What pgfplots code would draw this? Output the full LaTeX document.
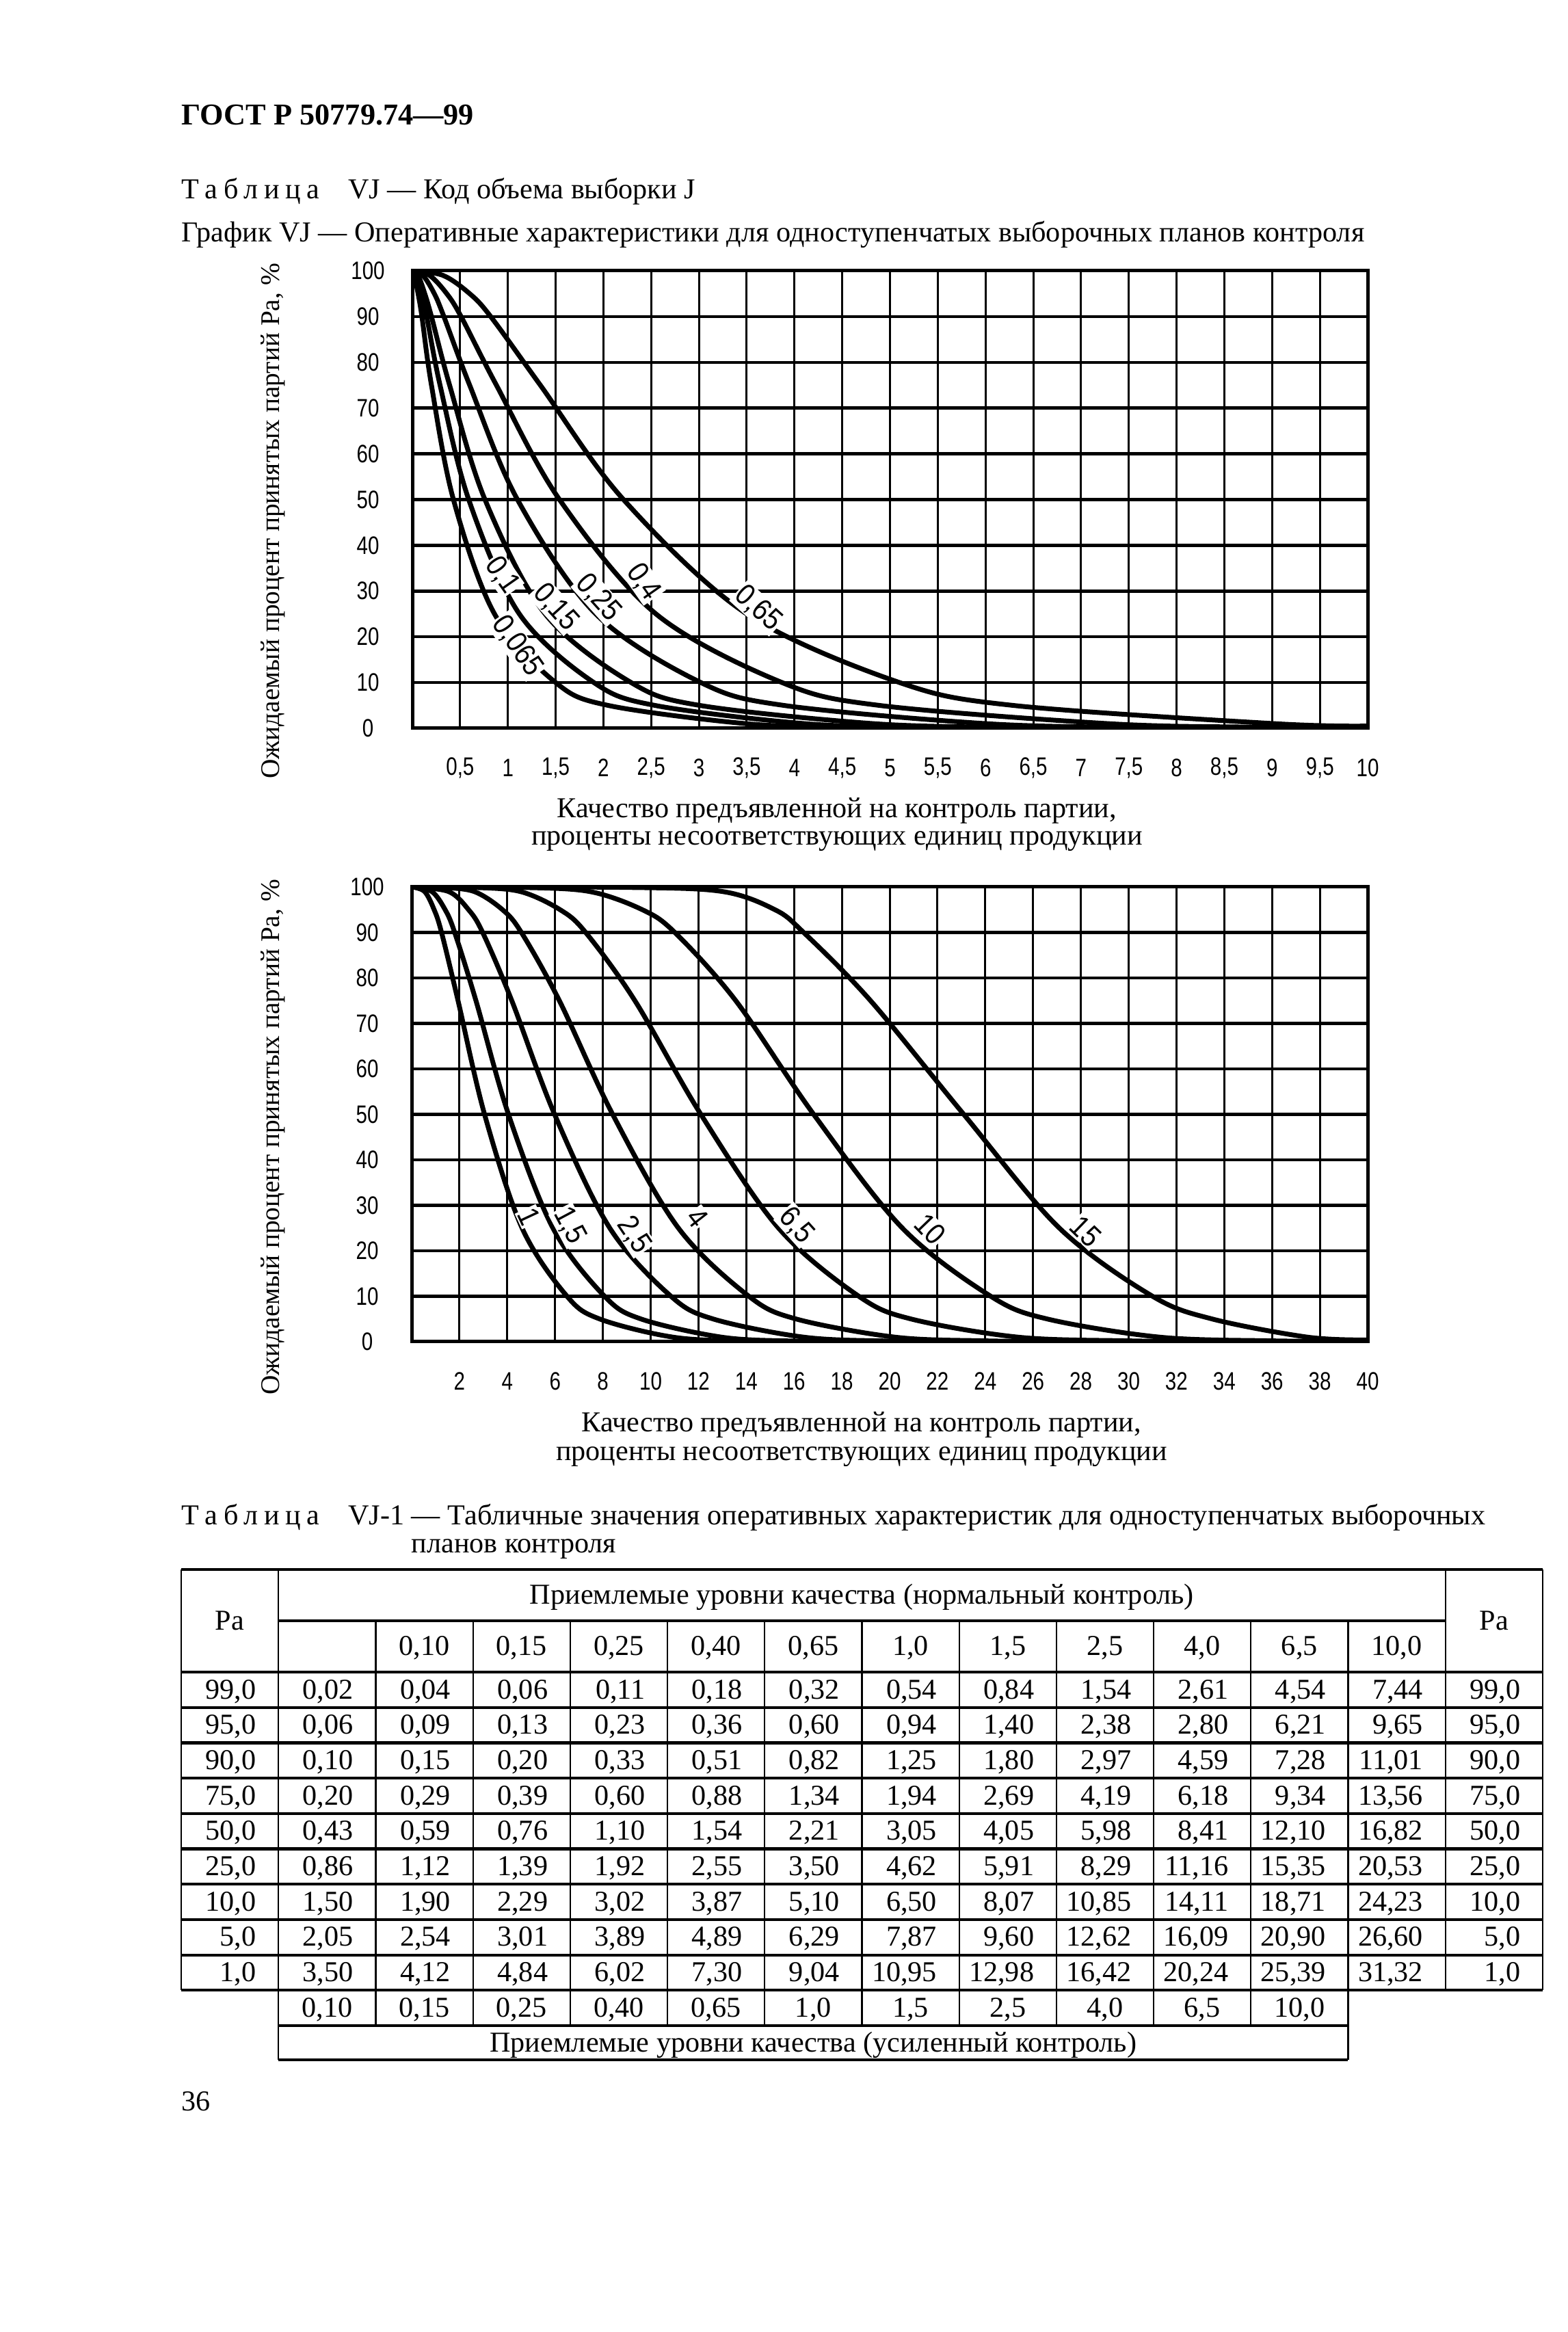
\documentclass[border=0pt]{standalone}
\usepackage{pgfplots}
\pgfplotsset{compat=1.18}
\usepackage{fontspec}
\setmainfont{Liberation Serif}
\newfontfamily\tickfont[FakeStretch=0.8]{Liberation Sans}
\newfontfamily\labfont[FakeStretch=0.88]{Liberation Sans}
\newcommand{\ls}{\hspace{0.2em}}
\newcommand{\tbl}{Т\ls а\ls б\ls л\ls и\ls ц\ls а}
\newcommand{\trow}[2]{%
  \foreach \v [count=\c from 0] in {#2} {%
    \node[anchor=base east,inner sep=0] at ({265+(\c+1)*142.2-32},{2445+#1*51.7+39}) {\v};}}
\tikzset{lab/.style={font=\labfont\fontsize{12.5}{12.5}\selectfont, fill=white, inner sep=0.5pt}}
\pgfplotsset{
  ocstyle/.style={
    scale only axis, anchor=south west,
    ymin=0, ymax=100,
    ytick={0,10,20,30,40,50,60,70,80,90,100},
    yticklabels={0,10,20,30,40,50,60,70,80,90,100},
    major tick length=0pt,
    xmajorgrids, grid style={line width=0.3mm,black},
    axis line style={line width=0.5mm},
    tick label style={font=\tickfont\fontsize{10.5}{10.5}\selectfont},
    xticklabel style={anchor=center,yshift=-5.8mm},
    yticklabel style={anchor=center,xshift=-6.5mm},
    cycle list={{black,solid}},
    every axis plot/.append style={line width=0.7mm, smooth, tension=0.55, no markers},
  },
}
\begin{document}
\begin{tikzpicture}[font=\fontsize{12}{13}\selectfont]
\path[fill=white,use as bounding box] (0,0) rectangle (229.2mm,341mm);

\begin{scope}[x=0.1mm,y=-0.1mm,yshift=341mm]
% page texts
\node[anchor=base west,inner sep=0,font=\bfseries\fontsize{12.6}{14}\selectfont] at (265,183) {ГОСТ Р 50779.74—99};
\node[anchor=base west,inner sep=0] at (265,291) {\tbl\quad VJ — Код объема выборки J};
\node[anchor=base west,inner sep=0] at (265,354) {График VJ — Оперативные характеристики для одноступенчатых выборочных планов контроля};
% axis titles
\node[anchor=base,inner sep=0] at (1224,1196) {Качество предъявленной на контроль партии,};
\node[anchor=base,inner sep=0] at (1224,1236) {проценты несоответствующих единиц продукции};
\node[anchor=base,inner sep=0] at (1260,2094) {Качество предъявленной на контроль партии,};
\node[anchor=base,inner sep=0] at (1260,2135) {проценты несоответствующих единиц продукции};
\node[rotate=90,inner sep=0,font=\fontsize{11.2}{12}\selectfont] at (399,762) {Ожидаемый процент принятых партий Ра, \%};
\node[rotate=90,inner sep=0,font=\fontsize{11.2}{12}\selectfont] at (399,1663) {Ожидаемый процент принятых партий Ра, \%};
% table caption
\node[anchor=base west,inner sep=0] at (265,2229) {\tbl\quad VJ-1 — Табличные значения оперативных характеристик для одноступенчатых выборочных};
\node[anchor=base west,inner sep=0] at (265,2270) {\phantom{\tbl\quad VJ-1 }планов контроля};
\node[anchor=base west,inner sep=0] at (265,3086) {36};

% table lines
\begin{scope}[line width=0.22mm]
\draw (265,2295) -- (265,2910);
\draw (407.2,2295) -- (407.2,3012);
\foreach \k in {2,...,11} \draw ({265+\k*142.2},2370) -- ({265+\k*142.2},2962);
\draw (1971.4,2370) -- (1971.4,3012);
\draw (2113.6,2295) -- (2113.6,2910);
\draw (2255.8,2295) -- (2255.8,2910);
\end{scope}
\begin{scope}[line width=0.42mm]
\draw (265,2295) -- (2255.8,2295);
\draw (407.2,2370) -- (2113.6,2370);
\foreach \r in {0,...,9} \draw (265,{2445+\r*51.7}) -- (2255.8,{2445+\r*51.7});
\draw (407.2,2962) -- (1971.4,2962);
\draw (407.2,3012) -- (1971.4,3012);
\end{scope}
% table header
\node[anchor=base,inner sep=0] at (336,2383) {Ра};
\node[anchor=base,inner sep=0] at (2185,2383) {Ра};
\node[anchor=base,inner sep=0] at (1260.4,2345) {Приемлемые уровни качества (нормальный контроль)};
\foreach \v [count=\c from 2] in {{0,10},{0,15},{0,25},{0,40},{0,65},{1,0},{1,5},{2,5},{4,0},{6,5},{10,0}}
  \node[anchor=base,inner sep=0] at ({265+(\c+0.5)*142.2},2420) {\v};
% table body
\trow{0}{{99,0},{0,02},{0,04},{0,06},{0,11},{0,18},{0,32},{0,54},{0,84},{1,54},{2,61},{4,54},{7,44},{99,0}}
\trow{1}{{95,0},{0,06},{0,09},{0,13},{0,23},{0,36},{0,60},{0,94},{1,40},{2,38},{2,80},{6,21},{9,65},{95,0}}
\trow{2}{{90,0},{0,10},{0,15},{0,20},{0,33},{0,51},{0,82},{1,25},{1,80},{2,97},{4,59},{7,28},{11,01},{90,0}}
\trow{3}{{75,0},{0,20},{0,29},{0,39},{0,60},{0,88},{1,34},{1,94},{2,69},{4,19},{6,18},{9,34},{13,56},{75,0}}
\trow{4}{{50,0},{0,43},{0,59},{0,76},{1,10},{1,54},{2,21},{3,05},{4,05},{5,98},{8,41},{12,10},{16,82},{50,0}}
\trow{5}{{25,0},{0,86},{1,12},{1,39},{1,92},{2,55},{3,50},{4,62},{5,91},{8,29},{11,16},{15,35},{20,53},{25,0}}
\trow{6}{{10,0},{1,50},{1,90},{2,29},{3,02},{3,87},{5,10},{6,50},{8,07},{10,85},{14,11},{18,71},{24,23},{10,0}}
\trow{7}{{5,0},{2,05},{2,54},{3,01},{3,89},{4,89},{6,29},{7,87},{9,60},{12,62},{16,09},{20,90},{26,60},{5,0}}
\trow{8}{{1,0},{3,50},{4,12},{4,84},{6,02},{7,30},{9,04},{10,95},{12,98},{16,42},{20,24},{25,39},{31,32},{1,0}}
\foreach \v [count=\c from 1] in {{0,10},{0,15},{0,25},{0,40},{0,65},{1,0},{1,5},{2,5},{4,0},{6,5},{10,0}}
  \node[anchor=base,inner sep=0] at ({265+(\c+0.5)*142.2},2949) {\v};
\node[anchor=base,inner sep=0] at (1189.3,3000) {Приемлемые уровни качества (усиленный контроль)};
\end{scope}

% ---------- top chart ----------
\begin{axis}[ocstyle,
  at={(60.3mm,234.5mm)}, width=139.7mm, height=66.9mm,
  xmin=0, xmax=10,
  xtick={0.5,1,1.5,2,2.5,3,3.5,4,4.5,5,5.5,6,6.5,7,7.5,8,8.5,9,9.5,10},
  xticklabels={{0,5},1,{1,5},2,{2,5},3,{3,5},4,{4,5},5,{5,5},6,{6,5},7,{7,5},8,{8,5},9,{9,5},10},
]
\pgfplotsinvokeforeach{10,20,30,40,50,60,70,80,90}{\draw[line width=0.45mm] (axis cs:0,#1) -- (axis cs:10,#1);}
\addplot coordinates {(0,100) (0.02,99) (0.06,95) (0.10,90) (0.20,75) (0.43,50) (0.86,25) (1.50,10) (2.05,5) (3.50,1) (4.6,0.2) (5.6,0)};
\addplot coordinates {(0,100) (0.04,99) (0.09,95) (0.15,90) (0.29,75) (0.59,50) (1.12,25) (1.90,10) (2.54,5) (4.12,1) (5.4,0.2) (6.5,0)};
\addplot coordinates {(0,100) (0.06,99) (0.13,95) (0.20,90) (0.39,75) (0.76,50) (1.39,25) (2.29,10) (3.01,5) (4.84,1) (6.3,0.2) (7.5,0)};
\addplot coordinates {(0,100) (0.11,99) (0.23,95) (0.33,90) (0.60,75) (1.10,50) (1.92,25) (3.02,10) (3.89,5) (6.02,1) (7.6,0.2) (9,0)};
\addplot coordinates {(0,100) (0.18,99) (0.36,95) (0.51,90) (0.88,75) (1.54,50) (2.55,25) (3.87,10) (4.89,5) (7.30,1) (8.8,0.25) (10,0.05)};
\addplot coordinates {(0,100) (0.32,99) (0.60,95) (0.82,90) (1.34,75) (2.21,50) (3.50,25) (5.10,10) (6.29,5) (9.04,1) (10,0.5)};
\node[lab,rotate=-55] at (axis cs:0.94,33.5) {0,1};
\node[lab,rotate=-55] at (axis cs:1.10,18) {0,065};
\node[lab,rotate=-48] at (axis cs:1.50,26.5) {0,15};
\node[lab,rotate=-48] at (axis cs:1.95,28.5) {0,25};
\node[lab,rotate=-55] at (axis cs:2.42,32) {0,4};
\node[lab,rotate=-42] at (axis cs:3.62,26.2) {0,65};
\end{axis}

% ---------- bottom chart ----------
\begin{axis}[ocstyle,
  at={(60.2mm,144.8mm)}, width=139.8mm, height=66.5mm,
  xmin=0, xmax=40,
  xtick={2,4,6,8,10,12,14,16,18,20,22,24,26,28,30,32,34,36,38,40},
  xticklabels={2,4,6,8,10,12,14,16,18,20,22,24,26,28,30,32,34,36,38,40},
]
\pgfplotsinvokeforeach{10,20,30,40,50,60,70,80,90}{\draw[line width=0.45mm] (axis cs:0,#1) -- (axis cs:40,#1);}
\addplot coordinates {(0,100) (0.54,99) (0.94,95) (1.25,90) (1.94,75) (3.05,50) (4.62,25) (6.50,10) (7.87,5) (10.95,1) (14,0.15) (18,0)};
\addplot coordinates {(0,100) (0.84,99) (1.40,95) (1.80,90) (2.69,75) (4.05,50) (5.91,25) (8.07,10) (9.60,5) (12.98,1) (16,0.15) (20,0)};
\addplot coordinates {(0,100) (1.54,99) (2.38,95) (2.97,90) (4.19,75) (5.98,50) (8.29,25) (10.85,10) (12.62,5) (16.42,1) (20,0.15) (24,0)};
\addplot coordinates {(0,100) (1.2,99.9) (2.61,99) (3.80,95) (4.59,90) (6.18,75) (8.41,50) (11.16,25) (14.11,10) (16.09,5) (20.24,1) (24,0.2) (28,0)};
\addplot coordinates {(0,100) (2.5,99.9) (4.54,99) (6.21,95) (7.28,90) (9.34,75) (12.10,50) (15.35,25) (18.71,10) (20.90,5) (25.39,1) (30,0.2) (34,0)};
\addplot coordinates {(0,100) (4.5,99.9) (7.44,99) (9.65,95) (11.01,90) (13.56,75) (16.82,50) (20.53,25) (24.23,10) (26.60,5) (31.32,1) (36,0.2) (40,0.05)};
\addplot coordinates {(0,100) (9,99.9) (13.0,99) (15.2,95) (16.4,90) (19.2,75) (23.1,50) (27.1,25) (31.0,10) (33.5,5) (37.5,1) (40,0.4)};
\node[lab,rotate=-65] at (axis cs:4.9,27.5) {1};
\node[lab,rotate=-62] at (axis cs:6.6,25.5) {1,5};
\node[lab,rotate=-56] at (axis cs:9.3,23.5) {2,5};
\node[lab,rotate=-52] at (axis cs:11.95,27.2) {4};
\node[lab,rotate=-48] at (axis cs:16.1,25.6) {6,5};
\node[lab,rotate=-46] at (axis cs:21.7,24.8) {10};
\node[lab,rotate=-44] at (axis cs:28.2,24.2) {15};
\end{axis}
\end{tikzpicture}
\end{document}
